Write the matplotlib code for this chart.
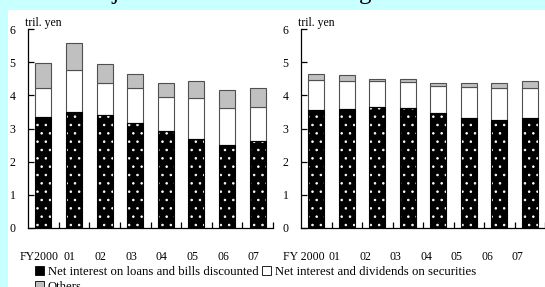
import numpy as np
import matplotlib
matplotlib.use("Agg")
import matplotlib.pyplot as plt
from matplotlib.patches import Patch, Rectangle
import matplotlib.transforms as mtrans

plt.rcParams['font.family'] = ['Liberation Serif', 'DejaVu Serif']
plt.rcParams['hatch.linewidth'] = 0.6

# ---- data (tril. yen) ----
years = ["2000", "01", "02", "03", "04", "05", "06", "07"]

# left panel: major banks
major_loans = [3.34, 3.51, 3.41, 3.18, 2.92, 2.67, 2.50, 2.62]
major_secs = [0.87, 1.24, 0.95, 1.03, 1.02, 1.25, 1.11, 1.03]
major_other = [0.77, 0.84, 0.57, 0.42, 0.42, 0.50, 0.54, 0.58]

# right panel: regional banks
reg_loans = [3.55, 3.60, 3.65, 3.61, 3.47, 3.33, 3.27, 3.33]
reg_secs = [0.91, 0.84, 0.77, 0.79, 0.82, 0.92, 0.96, 0.90]
reg_other = [0.19, 0.16, 0.06, 0.08, 0.07, 0.11, 0.13, 0.19]

titles = ["Major banks", "Regional banks"]
legend_labels = ["Net interest on loans and bills discounted",
                 "Net interest and dividends on securities",
                 "Others"]

bg = '#c8ffff'
grey = '#c0c0c0'
edge = '#505050'

fig = plt.figure(figsize=(5.45, 2.87), dpi=100, facecolor=bg)
fig.patches.append(Rectangle((8 / 545, 0), 1, 1 - 10 / 287, transform=fig.transFigure,
                             facecolor='white', edgecolor='none', zorder=-5))

bottom = (287 - 228) / 287
height = 199 / 287
axes = [fig.add_axes([28 / 545, bottom, 245 / 545, height]),
        fig.add_axes([301 / 545, bottom, 244 / 545, height])]

panels = [(major_loans, major_secs, major_other), (reg_loans, reg_secs, reg_other)]
label_shift = [-4, -12]
title_x = [142, 408]

for k, (ax, (loans, secs, other)) in enumerate(zip(axes, panels)):
    x = np.arange(len(years))
    loans = np.array(loans)
    secs = np.array(secs)
    other = np.array(other)
    w = 0.52
    # dotted black segment
    ax.bar(x, loans, w, color='black', edgecolor='white', hatch='..', linewidth=0, zorder=2)
    ax.bar(x, loans, w, facecolor='none', edgecolor='black', linewidth=0.8, zorder=3)
    ax.bar(x, secs, w, bottom=loans, color='white', edgecolor=edge, linewidth=0.8, zorder=2)
    ax.bar(x, other, w, bottom=loans + secs, color=grey, edgecolor=edge, linewidth=0.8, zorder=2)

    ax.set_xlim(-0.5, len(years) - 0.5)
    ax.set_ylim(0, 6)
    ax.set_yticks(range(0, 7))
    ax.set_facecolor('none')
    for s in ['top', 'right']:
        ax.spines[s].set_visible(False)
    ax.spines['left'].set_linewidth(0.9)
    ax.spines['bottom'].set_linewidth(0.9)
    ax.tick_params(axis='y', direction='in', length=4, width=0.9, pad=9, labelsize=8.5)
    ax.set_xticks(x)
    ax.set_xticklabels(["FY" + years[0] if k == 0 else "FY " + years[0]] + years[1:])
    ax.set_xticks(np.arange(0.5, len(years), 1.0), minor=True)
    ax.tick_params(axis='x', which='major', length=0, pad=16.5, labelsize=8.5)
    ax.tick_params(axis='x', which='minor', direction='in', length=4, width=0.9)
    offs = mtrans.ScaledTranslation(label_shift[k] / 100, 0, fig.dpi_scale_trans)
    for lab in ax.get_xticklabels():
        lab.set_transform(lab.get_transform() + offs)
    ax.text(-3 / 245, 1 + 3 / 199, "tril. yen", transform=ax.transAxes, fontsize=8.5,
            ha='left', va='baseline')
    fig.text(title_x[k] / 545, 1 + 1 / 287, titles[k], fontsize=18, ha='center', va='baseline')

handles = [Patch(facecolor='black', edgecolor='black', linewidth=0.6),
           Patch(facecolor=grey, edgecolor='black', linewidth=0.6),
           Patch(facecolor='white', edgecolor='black', linewidth=0.6)]
labels = [legend_labels[0], legend_labels[2], legend_labels[1]]
fig.legend(handles, labels, ncol=2, loc='upper left', bbox_to_anchor=(35 / 545, 1 - 266 / 287),
           frameon=False, fontsize=9.2, handlelength=0.7, handleheight=0.7, handletextpad=0.3,
           columnspacing=0.3, labelspacing=0.25, borderpad=0, borderaxespad=0)

fig.savefig("out.png", dpi=100, facecolor=bg)
